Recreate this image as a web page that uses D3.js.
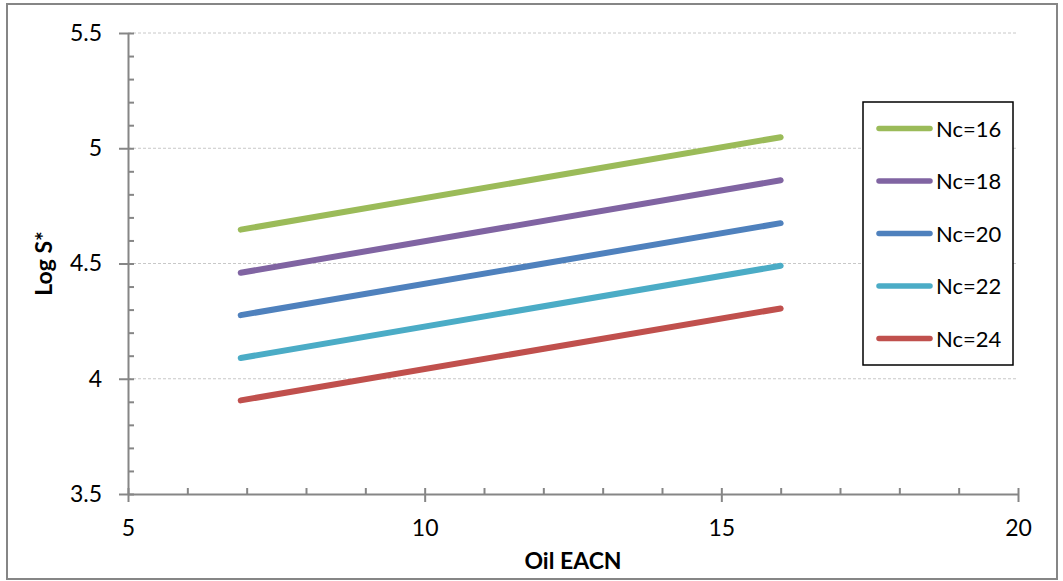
<!DOCTYPE html>
<html>
<head>
<meta charset="utf-8">
<script src="https://cdn.jsdelivr.net/npm/d3@7"></script>
<style>
  html, body { margin: 0; padding: 0; background: #fff; }
  svg { display: block; }
  text { font-family: Lato, "Open Sans", sans-serif; fill: #000; }
</style>
</head>
<body>
<svg id="chart" width="1063" height="581"></svg>
<script>
// Oil EACN at the two ends of each line
const eacn = [6.9, 16];

// Log S* for each surfactant chain length (Nc)
const nc16 = [4.647, 5.048];
const nc18 = [4.460, 4.861];
const nc20 = [4.276, 4.675];
const nc22 = [4.090, 4.490];
const nc24 = [3.906, 4.305];

const seriesNames = ["Nc=16", "Nc=18", "Nc=20", "Nc=22", "Nc=24"];
const seriesValues = [nc16, nc18, nc20, nc22, nc24];
const seriesColors = ["#9BBB59", "#8064A2", "#4F81BD", "#4BACC6", "#C0504D"];

const xTicks = [5, 10, 15, 20];
const yTicks = [3.5, 4, 4.5, 5, 5.5];

const svg = d3.select("#chart");
const W = 1063, H = 581;
const plot = { left: 128, right: 1018, top: 33, bottom: 494 };

const x = d3.scaleLinear().domain([5, 20]).range([plot.left, plot.right]);
const y = d3.scaleLinear().domain([3.5, 5.5]).range([plot.bottom, plot.top]);

const axisColor = "#868686";

// outer chart frame
svg.append("rect")
  .attr("x", 7).attr("y", 4).attr("width", W - 13).attr("height", H - 6)
  .attr("fill", "#fff").attr("stroke", axisColor).attr("stroke-width", 2);

// horizontal dashed gridlines
svg.append("g")
  .selectAll("line")
  .data(yTicks.filter(v => v > 3.5))
  .join("line")
  .attr("x1", plot.left).attr("x2", plot.right)
  .attr("y1", d => y(d)).attr("y2", d => y(d))
  .attr("stroke", "#c8c8c8").attr("stroke-width", 1)
  .attr("stroke-dasharray", "3,2");

function styleAxis(g) {
  g.selectAll(".domain").attr("stroke", axisColor).attr("stroke-width", 2);
  g.selectAll(".tick line").attr("stroke", axisColor).attr("stroke-width", 2);
}

// minor ticks pointing into the plot
const xMinor = d3.range(5, 20.01, 1);
const yMinor = d3.range(35, 55.01, 1).map(v => v / 10);

svg.append("g")
  .attr("transform", `translate(0,${plot.bottom})`)
  .call(d3.axisBottom(x).tickValues(xMinor).tickSize(-6).tickFormat(""))
  .call(styleAxis)
  .call(g => g.select(".domain").remove());

svg.append("g")
  .attr("transform", `translate(${plot.left},0)`)
  .call(d3.axisLeft(y).tickValues(yMinor).tickSize(-6).tickFormat(""))
  .call(styleAxis)
  .call(g => g.select(".domain").remove());

// major axes with labels
const xAxis = svg.append("g")
  .attr("transform", `translate(0,${plot.bottom})`)
  .call(d3.axisBottom(x).tickValues(xTicks).tickSizeInner(8).tickSizeOuter(0).tickPadding(18).tickFormat(d3.format("d")))
  .call(styleAxis);
xAxis.selectAll(".tick text").attr("font-size", 23).attr("font-family", "Lato, sans-serif").attr("fill", "#000");

const yAxis = svg.append("g")
  .attr("transform", `translate(${plot.left},0)`)
  .call(d3.axisLeft(y).tickValues(yTicks).tickSizeInner(9).tickSizeOuter(0).tickPadding(17).tickFormat(d => String(d)))
  .call(styleAxis);
yAxis.selectAll(".tick text").attr("font-size", 23).attr("font-family", "Lato, sans-serif").attr("fill", "#000");

// axis titles
svg.append("text")
  .attr("x", (plot.left + plot.right) / 2).attr("y", 569)
  .attr("text-anchor", "middle")
  .attr("font-size", 23).attr("font-weight", "bold")
  .text("Oil EACN");

svg.append("text")
  .attr("transform", `translate(52,${(plot.top + plot.bottom) / 2}) rotate(-90)`)
  .attr("text-anchor", "middle")
  .attr("font-size", 23).attr("font-weight", "bold")
  .text("Log S*");

// series lines
const line = d3.line().x(d => x(d[0])).y(d => y(d[1]));
svg.append("g")
  .selectAll("path")
  .data(seriesValues)
  .join("path")
  .attr("d", vals => line(eacn.map((e, i) => [e, vals[i]])))
  .attr("fill", "none")
  .attr("stroke", (d, i) => seriesColors[i])
  .attr("stroke-width", 6)
  .attr("stroke-linecap", "round");

// legend
const legend = svg.append("g");
legend.append("rect")
  .attr("x", 863).attr("y", 102).attr("width", 150).attr("height", 263)
  .attr("fill", "#fff").attr("stroke", "#000").attr("stroke-width", 1.5);

const rows = legend.selectAll("g.row")
  .data(seriesNames)
  .join("g")
  .attr("class", "row")
  .attr("transform", (d, i) => `translate(0,${128.5 + i * 52.5})`);

rows.append("line")
  .attr("x1", 879).attr("x2", 930).attr("y1", 0).attr("y2", 0)
  .attr("stroke", (d, i) => seriesColors[i])
  .attr("stroke-width", 5.5)
  .attr("stroke-linecap", "round");

rows.append("text")
  .attr("x", 936).attr("y", 8)
  .attr("font-size", 22)
  .text(d => d);
</script>
</body>
</html>
